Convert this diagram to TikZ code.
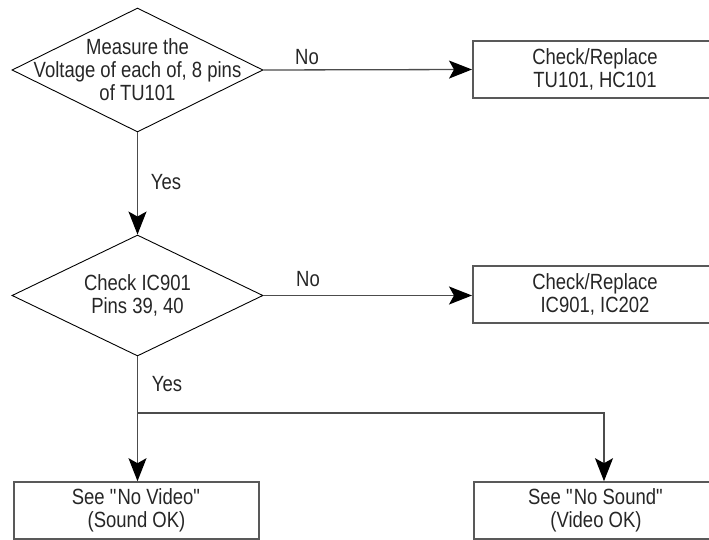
\documentclass[tikz,border=0pt]{standalone}
\usepackage{fontspec}
\setmainfont{Liberation Sans}[FakeStretch=0.84]
\usetikzlibrary{shapes.geometric,arrows.meta}
\begin{document}
\begin{tikzpicture}[x=1pt,y=-1pt,
  every node/.style={font=\fontsize{22}{23}\selectfont, text=black!85},
  decision/.style={draw=black, line width=0.9pt, shape=diamond, inner sep=0pt,
    minimum width=251pt, minimum height=124pt},
  actbox/.style={draw=black!65, line width=1.6pt, rectangle, inner sep=0pt,
    minimum width=247pt, minimum height=57pt},
  lbl/.style={align=center, inner sep=0pt},
  conn/.style={draw=black!70, line width=1.3pt},
  arr/.style={conn, -{Stealth[length=23pt, width=18pt, inset=5pt, black]}}
]
\useasboundingbox (0,0) rectangle (709,540);
% decisions
\node[decision] (d1) at (137.5,70) {};
\node[lbl] (d1t) at (137.5,70) {Measure the\\Voltage of each of, 8 pins\\of TU101};
\node[decision, minimum height=121pt] (d2) at (137.5,295.5) {};
\node[lbl] (d2t) at (137.5,295.5) {Check IC901\\Pins 39, 40};
% boxes
\node[actbox, anchor=west] (b1) at (472,69.5) {};
\node[lbl] (b1t) at (595,69.5) {Check/Replace\\TU101, HC101};
\node[actbox, anchor=west] (b2) at (472,294.5) {};
\node[lbl] (b2t) at (595,294.5) {Check/Replace\\IC901, IC202};
\node[actbox, minimum width=245pt] (b3) at (136.5,510.5) {};
\node[lbl] (b3t) at (136.5,510.5) {See \textquotedbl No Video\textquotedbl\\(Sound OK)};
\node[actbox, anchor=west] (b4) at (473,510.5) {};
\node[lbl] (b4t) at (596,510.5) {See \textquotedbl No Sound\textquotedbl\\(Video OK)};
% connectors
\draw[arr] (d1.east) -- (b1.west);
\draw[arr] (d1.south) -- (d2.north);
\draw[arr] (d2.east) -- (d2.east -| b2.west);
\coordinate (j1) at (137.5,413);
\coordinate (j2) at (604,413);
\draw[conn] (d2.south) -- (j1);
\draw[arr] (j1) -- (j1 |- b3.north);
\draw[arr] (j1) -- (j2) -- (j2 |- b4.north);
% labels
\node[lbl] (no1) at (307,57) {No};
\node[lbl] (no2) at (308,279) {No};
\node[lbl] (yes1) at (166,182) {Yes};
\node[lbl] (yes2) at (167,384) {Yes};
\end{tikzpicture}
\end{document}
